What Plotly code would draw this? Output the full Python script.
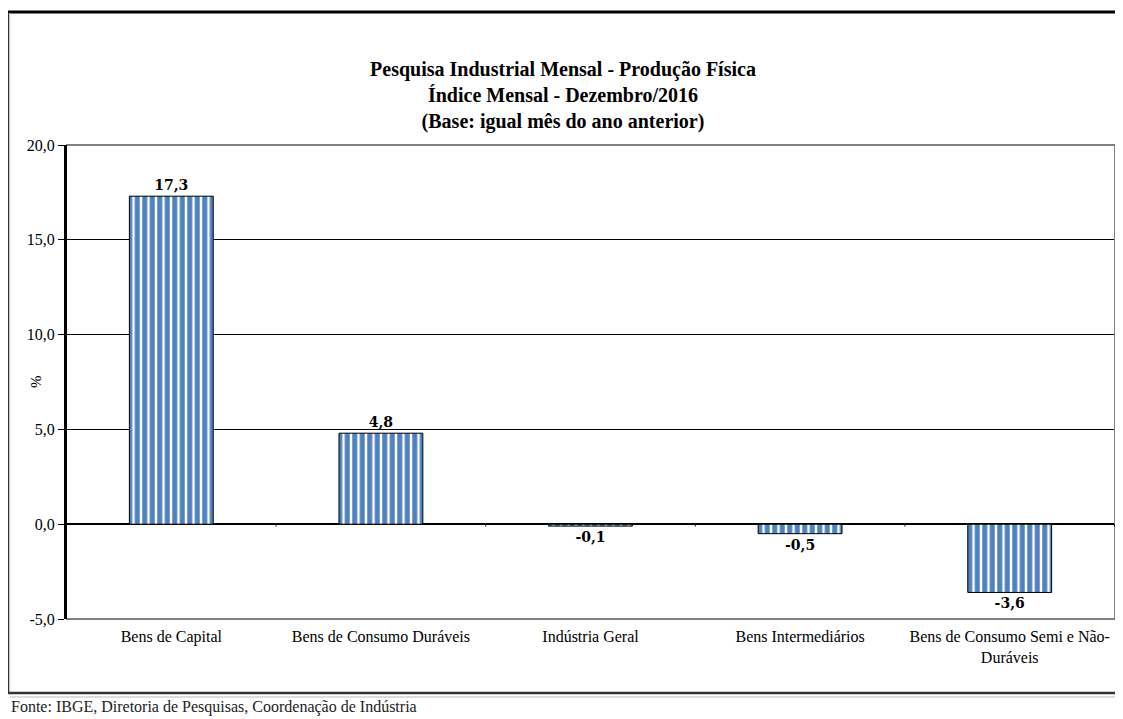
import plotly.graph_objects as go

categories = ["Bens de Capital", "Bens de Consumo Duráveis", "Indústria Geral",
              "Bens Intermediários", "Bens de Consumo Semi e Não-<br>Duráveis"]
values = [17.3, 4.8, -0.1, -0.5, -3.6]
tick_vals = [-5, 0, 5, 10, 15, 20]
tick_text = ["-5,0", "0,0", "5,0", "10,0", "15,0", "20,0"]

# page body has an 8px margin: work in screen pixels and shift
OFF = 8
W, H = 1123, 719
PL, PR, PT, PB = 66, 1115, 145, 619  # plot area in screen pixels
L, T = PL - OFF, PT - OFF
R = W - (PR - OFF)
B = H - (PB - OFF)
pw, ph = PR - PL, PB - PT

def px_x(p):
    return (p - PL) / pw

def px_y(p):
    return (PB - p) / ph

FONT = "Liberation Serif"
BLUE = "#4F81BD"

fig = go.Figure(go.Bar(
    x=categories, y=values, width=0.4,
    marker=dict(color=BLUE, line=dict(color="black", width=1),
                pattern=dict(shape="|", fgcolor=BLUE, bgcolor="white",
                             fgopacity=1, size=7.5, solidity=0.68, fillmode="overlay")),
    texttemplate="<b>%{y:.1f}</b>", textposition="outside",
    textfont=dict(family="DejaVu Serif", size=14, color="black"),
    cliponaxis=False,
))

fig.update_layout(
    width=W, height=H, separators=",.",
    margin=dict(l=L, r=R, t=T, b=B),
    paper_bgcolor="white", plot_bgcolor="white",
    showlegend=False,
    font=dict(family=FONT, color="black"),
    title=dict(text="<b>Pesquisa Industrial Mensal - Produção Física<br>Índice Mensal - Dezembro/2016<br>(Base: igual mês do ano anterior)</b>",
               x=(563 - OFF) / W, xanchor="center", y=1 - (76 - OFF) / H, yanchor="middle",
               font=dict(family=FONT, size=20, color="black")),
    xaxis=dict(showgrid=False, showline=False, ticks="",
               tickfont=dict(family=FONT, size=16, color="black"),
               ticklabelstandoff=6),
    yaxis=dict(range=[-5, 20], tickvals=tick_vals, ticktext=tick_text,
               showgrid=True, gridcolor="black", gridwidth=1,
               zeroline=True, zerolinecolor="black", zerolinewidth=1.5,
               showline=True, linecolor="black", linewidth=2,
               ticks="outside", ticklen=6, tickcolor="black",
               tickfont=dict(family=FONT, size=16, color="black")),
)

shapes = [
    # plot area border (gray) top, right, bottom; left axis black
    dict(type="line", xref="paper", yref="paper", x0=0, x1=1, y0=1, y1=1, line=dict(color="#808080", width=2), layer="above"),
    dict(type="line", xref="paper", yref="paper", x0=1, x1=1, y0=0, y1=1, line=dict(color="#808080", width=2), layer="above"),
    dict(type="line", xref="paper", yref="paper", x0=0, x1=1, y0=0, y1=0, line=dict(color="#808080", width=2), layer="above"),
    dict(type="line", xref="paper", yref="paper", x0=0, x1=0, y0=0, y1=1, line=dict(color="black", width=2), layer="above"),
    # outer frame
    dict(type="line", xref="paper", yref="paper", x0=px_x(7), x1=px_x(W + 20), y0=px_y(12), y1=px_y(12), line=dict(color="black", width=3)),
    dict(type="line", xref="paper", yref="paper", x0=px_x(8), x1=px_x(8), y0=px_y(12), y1=px_y(693), line=dict(color="black", width=3)),
    dict(type="line", xref="paper", yref="paper", x0=px_x(9.5), x1=px_x(9.5), y0=px_y(13), y1=px_y(692), line=dict(color="#C8C8C8", width=1.5)),
    dict(type="line", xref="paper", yref="paper", x0=px_x(7), x1=px_x(W + 20), y0=px_y(693), y1=px_y(693), line=dict(color="#333333", width=2.5)),
    dict(type="line", xref="paper", yref="paper", x0=px_x(10), x1=px_x(W + 20), y0=px_y(697), y1=px_y(697), line=dict(color="#DDDDDD", width=2)),
]
# small category-boundary tick marks on the zero line
for i in range(len(categories) + 1):
    shapes.append(dict(type="line", xref="x", yref="y", x0=i - 0.5, x1=i - 0.5,
                       y0=0, y1=-0.12, line=dict(color="black", width=1)))
fig.update_layout(shapes=shapes)

fig.add_annotation(text="%", xref="paper", yref="paper", x=px_x(36), y=px_y(381),
                   xanchor="center", yanchor="middle", showarrow=False, textangle=-90,
                   font=dict(family=FONT, size=15, color="black"))

fig.add_annotation(text="Fonte: IBGE, Diretoria de Pesquisas, Coordenação de Indústria",
                   xref="paper", yref="paper", x=px_x(9), y=px_y(707),
                   xanchor="left", yanchor="middle", showarrow=False,
                   font=dict(family=FONT, size=16, color="#222222"))

fig.write_html("out.html")
